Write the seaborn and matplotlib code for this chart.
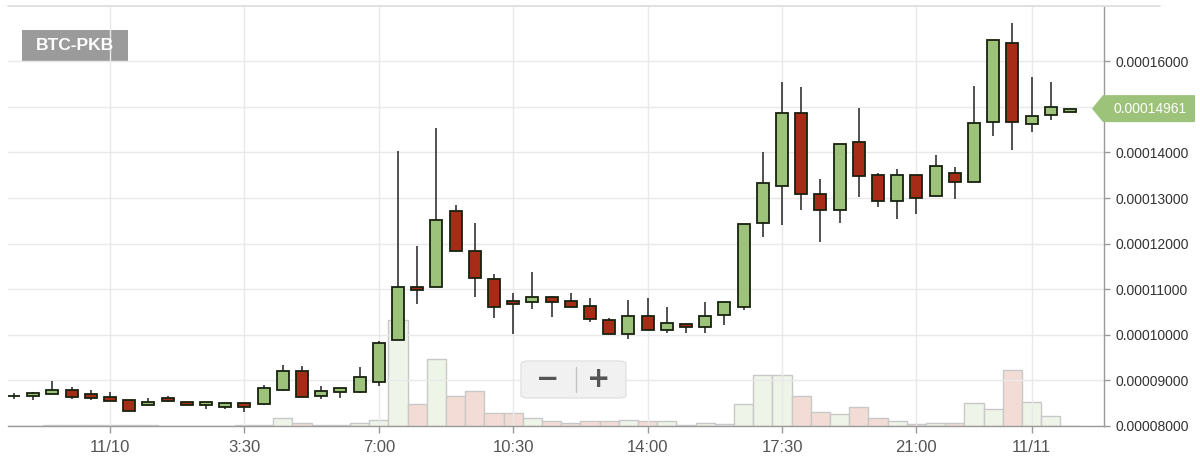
import pandas as pd
import seaborn as sns
import matplotlib
matplotlib.use("Agg")
import matplotlib.pyplot as plt
import matplotlib.dates as mdates
import matplotlib.transforms as mtransforms
from matplotlib.patches import FancyBboxPatch, Polygon
from matplotlib.lines import Line2D

# 30 minute candles, BTC-PKB, prices in satoshi
start_time = "2017-11-09 21:30"
opens = [8660, 8650, 8710, 8790, 8700, 8630, 8560, 8460, 8620, 8530, 8450, 8420, 8500,
         8490, 8800, 9210, 8660, 8750, 8740, 8970, 9890, 11050, 11050,
         12710, 11840, 11220, 10740, 10730, 10840, 10740, 10640, 10320, 10010, 10410, 10110,
         10240, 10170, 10430, 10620, 12450,
         13260, 14860, 13080, 12740, 14220, 13500, 12930, 13500, 13040, 13540, 13360, 14660,
         16400, 14620, 14830, 14890]
highs = [8720, 8740, 8990, 8860, 8780, 8740, 8560, 8620, 8650, 8530, 8530, 8500, 8500,
         8900, 9340, 9320, 8880, 8840, 9300, 9870, 14030, 11950, 14530,
         12850, 12460, 11330, 10920, 11380, 10850, 10910, 10810, 10360, 10760, 10810, 10620,
         10240, 10730, 10730, 12420, 14020,
         15550, 15440, 13420, 14180, 14970, 13540, 13630, 13500, 13940, 13670, 15460, 16460,
         16850, 15650, 15550, 14961]
lows = [8600, 8580, 8710, 8590, 8560, 8550, 8320, 8460, 8520, 8460, 8380, 8380, 8310,
        8460, 8770, 8640, 8590, 8610, 8720, 8880, 9890, 10680, 11050,
        11830, 10840, 10370, 10010, 10570, 10400, 10620, 10290, 10010, 9900, 10110, 10030,
        10030, 10030, 10210, 10540, 12140,
        12410, 12740, 12040, 12460, 13030, 12810, 12530, 12660, 13040, 12980, 13360, 14370,
        14050, 14450, 14710, 14890]
closes = [8660, 8720, 8780, 8640, 8610, 8550, 8320, 8530, 8550, 8460, 8530, 8500, 8410,
          8830, 9210, 8640, 8760, 8830, 9070, 9830, 11050, 10980, 12520,
          11830, 11240, 10600, 10670, 10840, 10730, 10620, 10340, 10010, 10410, 10110, 10250,
          10170, 10410, 10730, 12420, 13340,
          14860, 13080, 12740, 14180, 13490, 12930, 13500, 13000, 13700, 13360, 14640, 16460,
          14660, 14800, 14990, 14961]
volumes = [0.05, 0.05, 0.1, 0.1, 0.1, 0.1, 0.1, 0.1, 0.05, 0.05, 0.03, 0.05, 0.1,
           0.1, 0.8, 0.27, 0.1, 0.1, 0.27, 0.63, 10.56, 2.2, 6.66,
           2.96, 3.5, 1.3, 1.3, 0.8, 0.46, 0.3, 0.46, 0.46, 0.6, 0.46, 0.46,
           0.13, 0.3, 0.17, 2.2, 5.15,
           5.1, 3.0, 1.4, 1.24, 1.87, 0.83, 0.5, 0.23, 0.33, 0.33, 2.3, 1.73,
           5.57, 2.43, 0.97, 0.0]

tick_times = ["2017-11-10 00:00", "2017-11-10 03:30", "2017-11-10 07:00", "2017-11-10 10:30",
              "2017-11-10 14:00", "2017-11-10 17:30", "2017-11-10 21:00", "2017-11-11 00:00"]
tick_labels = ["11/10", "3:30", "7:00", "10:30", "14:00", "17:30", "21:00", "11/11"]
price_ticks = [8000, 9000, 10000, 11000, 12000, 13000, 14000, 15000, 16000]
pair_name = "BTC-PKB"

GREEN = "#9dc27a"
RED = "#a52c17"
VOL_GREEN = "#eef5e8"
VOL_RED = "#f3dcd5"

df = pd.DataFrame({
    "time": pd.date_range(start_time, periods=len(opens), freq="30min"),
    "open": [v * 1e-8 for v in opens],
    "high": [v * 1e-8 for v in highs],
    "low": [v * 1e-8 for v in lows],
    "close": [v * 1e-8 for v in closes],
    "volume": volumes,
})
df["up"] = df["close"] >= df["open"]
df["body_low"] = df[["open", "close"]].min(axis=1)
df["body_h"] = (df["close"] - df["open"]).abs()

sns.set_style("white")
plt.rcParams["font.family"] = ["Liberation Sans", "DejaVu Sans"]

W, H = 1200, 458
fig = plt.figure(figsize=(12, 4.58), dpi=100)
fig.patch.set_facecolor("white")


def fx(x, y):
    return x / W, 1 - y / H


ax = fig.add_axes([8 / W, (H - 426) / H, 1096 / W, 419 / H])
ax_vol = ax.twinx()
ax.set_zorder(ax_vol.get_zorder() + 1)
ax.patch.set_visible(False)

# volume histogram in the background
ax_vol.bar(df["time"], df["volume"], width=pd.Timedelta(minutes=30),
           color=[VOL_GREEN if u else VOL_RED for u in df["up"]],
           edgecolor="#c8c8c8", linewidth=1)
ax_vol.set_ylim(0, 41.9)
ax_vol.set_yticks([])
for s in ax_vol.spines.values():
    s.set_visible(False)

# candles
ax.vlines(df["time"], df["low"], df["high"], color="#333333", linewidth=1.2, zorder=2)
ax.bar(df["time"], df["body_h"], bottom=df["body_low"], width=pd.Timedelta(minutes=19),
       color=[GREEN if u else RED for u in df["up"]],
       edgecolor="#18220f", linewidth=1.3, zorder=3)

t0 = pd.Timestamp("2017-11-10")
ax.set_xlim(t0 - pd.Timedelta(hours=2.656), t0 + pd.Timedelta(hours=25.885))
ax.set_ylim(8e-5, 17.19e-5)

ax.set_xticks(pd.to_datetime(tick_times))
ax.set_xticklabels(tick_labels)
ax.set_yticks([p * 1e-8 for p in price_ticks])
ax.set_yticklabels(["" if p == 15000 else f"{p * 1e-8:.8f}" for p in price_ticks])

ax.yaxis.tick_right()
ax.tick_params(axis="y", right=True, left=False, labelright=True, labelleft=False,
               length=4, width=1, color="#9a9a9a", labelsize=10, labelcolor="#333333", pad=4)
ax.tick_params(axis="x", bottom=True, length=5, width=1, color="#9a9a9a",
               labelsize=12, labelcolor="#555555", pad=5)
ax.grid(True, color="#e9e9e9", linewidth=1)
ax.set_axisbelow(True)

for name in ["left", "top"]:
    ax.spines[name].set_visible(False)
for name in ["right", "bottom"]:
    ax.spines[name].set_color("#9a9a9a")
    ax.spines[name].set_linewidth(1)

# top border line
x0, y0 = fx(8, 6)
x1, _ = fx(1160, 6)
fig.add_artist(Line2D([x0, x1], [y0, y0], color="#dcdcdc", linewidth=1.2))

# pair label
bx, by = fx(22, 62)
fig.add_artist(FancyBboxPatch((bx, by), 106 / W, 32 / H, boxstyle="square,pad=0",
                              facecolor="#9b9b9b", edgecolor="none",
                              transform=fig.transFigure))
tx, ty = fx(75, 46)
fig.text(tx, ty, pair_name, color="white", fontsize=12.5, fontweight="bold",
         ha="center", va="center")

# last price tag
last = df.iloc[-1]
ypix = ax.transData.transform((mdates.date2num(last["time"]), last["close"]))[1]
tag = Polygon([(1092, ypix), (1103, ypix + 13.5), (1195, ypix + 13.5),
               (1195, ypix - 13.5), (1103, ypix - 13.5)], closed=True,
              facecolor=GREEN, edgecolor="none", transform=mtransforms.IdentityTransform(),
              zorder=5)
fig.add_artist(tag)
fig.text(1113 / W, ypix / H, f"{last['close']:.8f}", color="white", fontsize=10,
         ha="left", va="center", zorder=6)

# zoom buttons
zx, zy = fx(521, 398)
fig.add_artist(FancyBboxPatch((zx, zy), 105 / W, 37 / H,
                              boxstyle="round,pad=0,rounding_size=0.006",
                              facecolor="#f1f1f1", edgecolor="#e2e2e2", linewidth=1,
                              transform=fig.transFigure, zorder=4))
dx0, dy0 = fx(576, 367)
_, dy1 = fx(576, 392)
fig.add_artist(Line2D([dx0, dx0], [dy0, dy1], color="#c4c4c4", linewidth=1, zorder=5))
mx, my = fx(548, 379)
fig.text(mx, my, "\u2212", fontsize=20, fontweight="bold", color="#555555",
         ha="center", va="center", family="DejaVu Sans", zorder=6)
px_, py_ = fx(599, 379)
fig.text(px_, py_, "+", fontsize=20, fontweight="bold", color="#555555",
         ha="center", va="center", family="DejaVu Sans", zorder=6)

fig.savefig("out.png", dpi=100)
